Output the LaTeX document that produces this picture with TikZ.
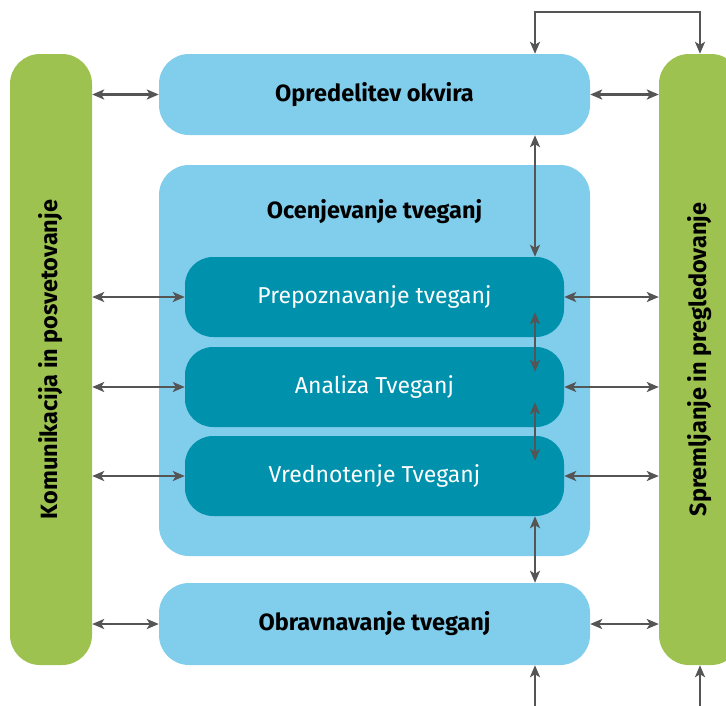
\documentclass[tikz,border=0pt]{standalone}
\usepackage{fontspec}
\setmainfont{Fira Sans}
\usetikzlibrary{positioning,arrows.meta}
\definecolor{svetlomodra}{HTML}{80CEEC}
\definecolor{temnomodra}{HTML}{0091AD}
\definecolor{zelena}{HTML}{9DC24F}
\definecolor{puscica}{HTML}{555555}
\tikzset{
  >={Stealth[length=12pt,width=10pt,inset=3pt]},
  okvir/.style={fill=svetlomodra,rounded corners=30pt,minimum width=431pt,inner sep=0pt,font=\bfseries\fontsize{23.5}{26}\selectfont},
  korak/.style={fill=temnomodra,text=white,rounded corners=28pt,minimum width=379pt,minimum height=80pt,inner sep=0pt,font=\fontsize{23}{26}\selectfont},
  stolpec/.style={fill=zelena,rounded corners=30pt,minimum width=82pt,minimum height=611pt,inner sep=0pt},
  napis/.style={rotate=90,font=\bfseries\fontsize{23.5}{26}\selectfont},
  vez/.style={<->,draw=puscica,line width=2.4pt},
}
\begin{document}
\begin{tikzpicture}[x=1pt,y=-1pt]
\useasboundingbox (0,0) rectangle (726,705);
\clip (0,0) rectangle (726,705);
% stranska stolpca
\node[stolpec] (komunikacija) at (51,359.5) {};
\node[napis] (komunikacijanapis) at (komunikacija) {Komunikacija in posvetovanje};
\node[stolpec] (spremljanje) at (700,359.5) {};
\node[napis] (spremljanjenapis) at (spremljanje) {Spremljanje in pregledovanje};
% osrednji koraki
\node[okvir,minimum height=81pt] (opredelitev) at (374.5,94.5) {Opredelitev okvira};
\node[okvir,minimum height=391pt] (ocenjevanje) at (374.5,360.5) {};
\node[font=\bfseries\fontsize{23.5}{26}\selectfont] (ocenjevanjenapis) at ([yshift=-47pt]ocenjevanje.north) {Ocenjevanje tveganj};
\foreach \ime/\besedilo/\y in {prepoznavanje/Prepoznavanje tveganj/297,analiza/Analiza Tveganj/387,vrednotenje/Vrednotenje Tveganj/476}
  \node[korak] (\ime) at (374.5,\y) {\besedilo};
\node[okvir,minimum height=82pt] (obravnavanje) at (374.5,624) {Obravnavanje tveganj};
% povezave
\coordinate (os) at (535,0);
\coordinate (vrh) at (535,12);
\foreach \cilj in {opredelitev,prepoznavanje,analiza,vrednotenje,obravnavanje}{
  \draw[vez] (komunikacija.east |- \cilj) -- (\cilj.west);
  \draw[vez] (\cilj.east) -- (spremljanje.west |- \cilj);
}
\draw[vez] (opredelitev.south -| os) -- (prepoznavanje.north -| os);
\draw[vez,shorten <=-25pt,shorten >=-25pt] (prepoznavanje.south -| os) -- (analiza.north -| os);
\draw[vez,shorten <=-25pt,shorten >=-25pt] (analiza.south -| os) -- (vrednotenje.north -| os);
\draw[vez] (vrednotenje.south -| os) -- (obravnavanje.north -| os);
\draw[vez] (opredelitev.north -| os) -- (vrh) -| (spremljanje.north);
\draw[vez,<-] (obravnavanje.south -| os) -- ++(0,45);
\draw[vez,<-] (spremljanje.south) -- ++(0,45);
\end{tikzpicture}
\end{document}
